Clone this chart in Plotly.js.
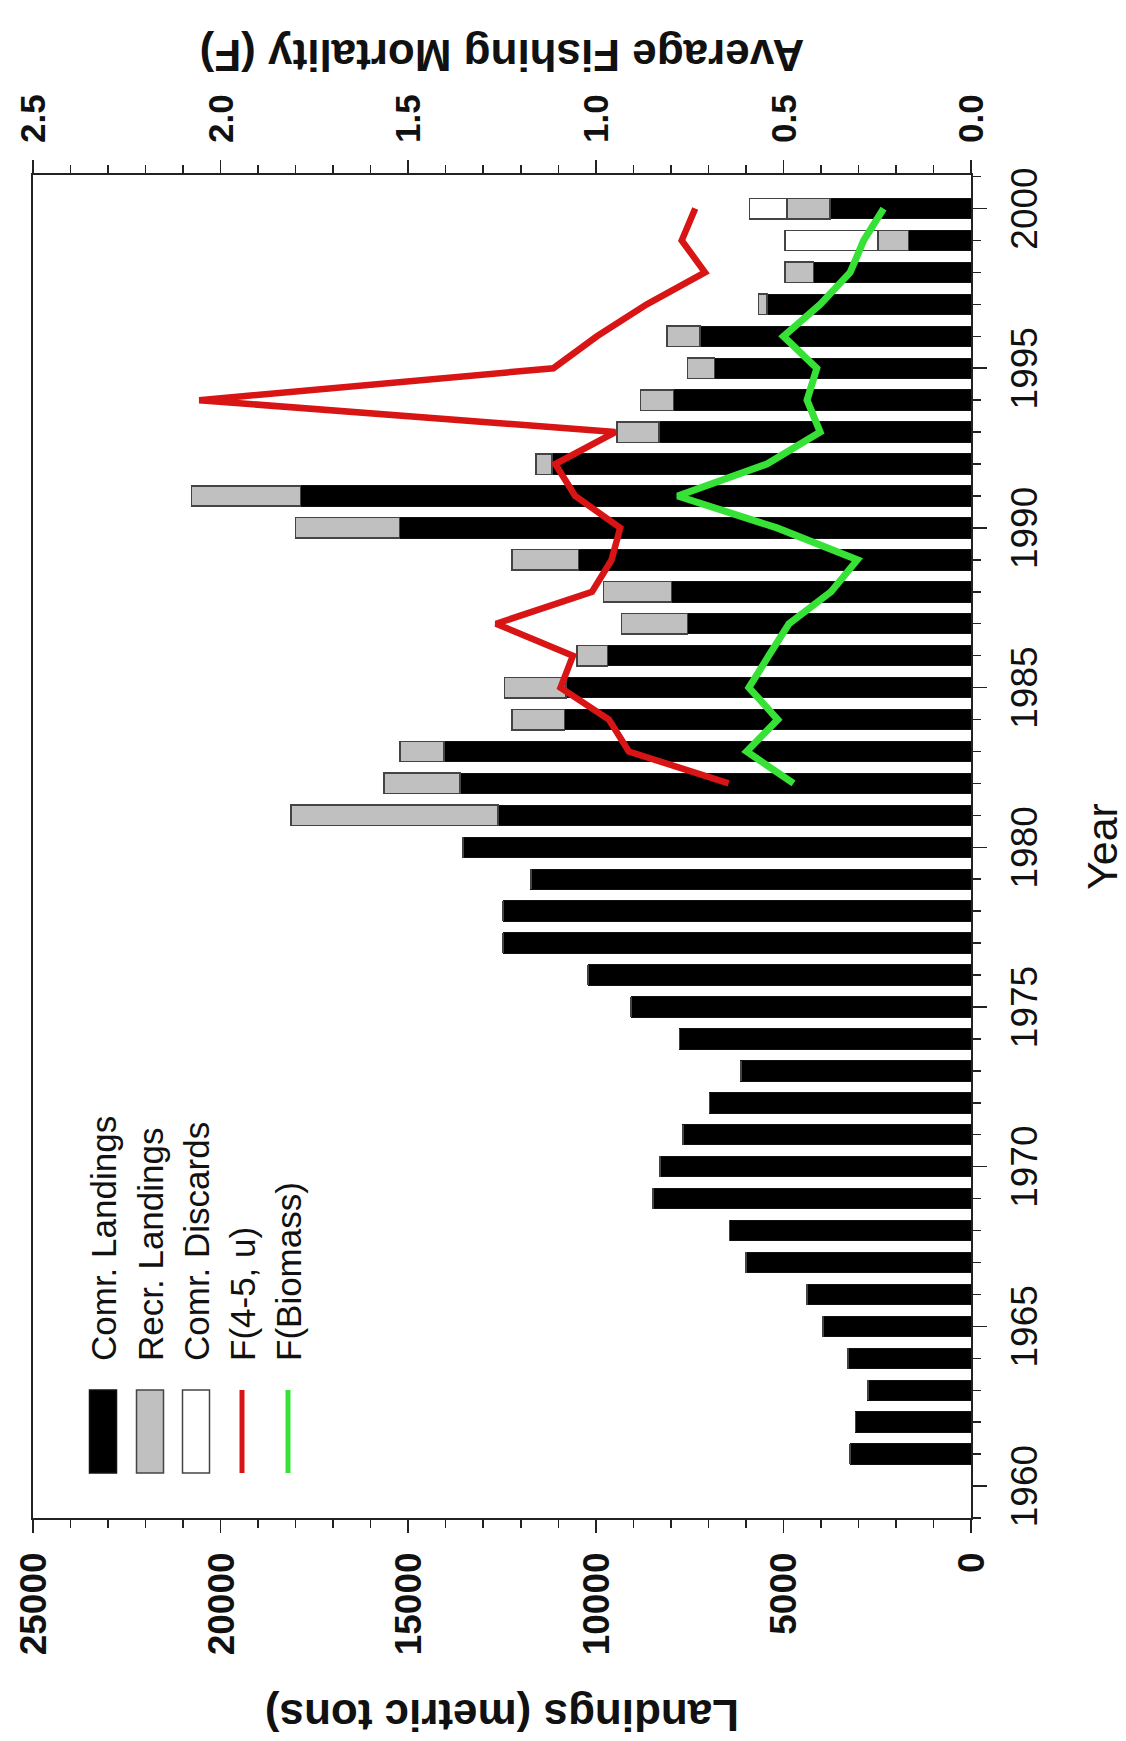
<!DOCTYPE html>
<html>
<head>
<meta charset="utf-8">
<script src="https://cdn.plot.ly/plotly-3.0.1.min.js"></script>
<style>
  html, body { margin: 0; padding: 0; background: #ffffff; overflow: hidden; }
  body { width: 1126px; height: 1741px; position: relative; }
  /* The chart is laid out landscape and turned a quarter turn counter-clockwise */
  #chart {
    position: absolute; left: 0; top: 0;
    width: 1741px; height: 1126px;
    transform-origin: 0 0;
    transform: translateY(1741px) rotate(-90deg);
  }
</style>
</head>
<body>
<div id="chart"></div>
<script>
// Landings by year (metric tons)
const years = [1961,1962,1963,1964,1965,1966,1967,1968,1969,1970,
               1971,1972,1973,1974,1975,1976,1977,1978,1979,1980,
               1981,1982,1983,1984,1985,1986,1987,1988,1989,1990,
               1991,1992,1993,1994,1995,1996,1997,1998,1999,2000];
const comrLandings = [3220,3085,2750,3280,3950,4375,6000,6440,8480,8290,
                      7680,6970,6135,7770,9060,10205,12467,12467,11728,13535,
                      12612,13620,14045,10830,10800,9690,7552,7977,10460,15237,
                      17867,11170,8312,7930,6837,7219,5440,4197,1664,3752];
const recrLandings = [0,0,0,0,0,0,0,0,0,0,
                      0,0,0,0,0,0,0,0,0,0,
                      5510,2020,1170,1400,1640,805,1768,1823,1776,2763,
                      2906,422,1128,880,720,888,224,755,816,1155];
const comrDiscards = [0,0,0,0,0,0,0,0,0,0,
                      0,0,0,0,0,0,0,0,0,0,
                      0,0,0,0,0,0,0,0,0,0,
                      0,0,0,0,0,0,0,0,2472,997];

// Average fishing mortality
const fYears = [1982,1983,1984,1985,1986,1987,1988,1989,1990,1991,
                1992,1993,1994,1995,1996,1997,1998,1999,2000];
const fAge45 = [0.646,0.912,0.965,1.094,1.061,1.266,1.010,0.958,0.935,1.055,
                1.108,0.948,2.057,1.113,0.997,0.864,0.709,0.771,0.735];
const fBiomass = [0.473,0.598,0.515,0.592,0.539,0.485,0.373,0.303,0.517,0.782,
                  0.544,0.402,0.437,0.411,0.500,0.402,0.322,0.286,0.233];

const legendLabels = ['Comr. Landings', 'Recr. Landings', 'Comr. Discards', 'F(4-5, u)', 'F(Biomass)'];

const FONT = 'Liberation Sans, Arial, Helvetica, sans-serif';
const INK = '#111111';
const AXIS = '#222222';
const RED = '#d81414';
const GREEN = '#36e236';
const GREY = '#c0c0c0';
const EDGE = '#444444';

const W = 1741, H = 1126;
const M = {l: 223, r: 175, t: 33, b: 155};
const PW = W - M.l - M.r, PH = H - M.t - M.b;
// pixel position inside the figure -> paper coordinates
const px = v => (v - M.l) / PW;
const py = v => 1 - (v - M.t) / PH;

const barW = 0.64;
const traces = [
  {type: 'bar', x: years, y: comrLandings, width: barW, name: legendLabels[0],
   marker: {color: '#000000', line: {color: INK, width: 1}}},
  {type: 'bar', x: years, y: recrLandings, width: barW, name: legendLabels[1],
   marker: {color: GREY, line: {color: EDGE, width: 1.5}}},
  {type: 'bar', x: years, y: comrDiscards, width: barW, name: legendLabels[2],
   marker: {color: '#ffffff', line: {color: EDGE, width: 1.5}}},
  {type: 'scatter', mode: 'lines', x: fYears, y: fAge45, yaxis: 'y2', name: legendLabels[3],
   line: {color: RED, width: 6.5}},
  {type: 'scatter', mode: 'lines', x: fYears, y: fBiomass, yaxis: 'y2', name: legendLabels[4],
   line: {color: GREEN, width: 7}}
];

// hand-built legend: swatches as shapes, labels as annotations
const sw0 = 268, sw1 = 351, textX = 378;
const rows = [103, 150, 196, 242, 288];
const shapes = [];
const swatchFill = ['#000000', GREY, '#ffffff'];
for (let i = 0; i < 3; i++) {
  shapes.push({type: 'rect', xref: 'paper', yref: 'paper',
    x0: px(sw0), x1: px(sw1), y0: py(rows[i] - 13.5), y1: py(rows[i] + 13.5),
    fillcolor: swatchFill[i], line: {color: i === 0 ? INK : EDGE, width: 1.5}});
}
[RED, GREEN].forEach((c, k) => {
  shapes.push({type: 'line', xref: 'paper', yref: 'paper',
    x0: px(sw0), x1: px(sw1), y0: py(rows[3 + k]), y1: py(rows[3 + k]),
    line: {color: c, width: 5}});
});
const annotations = legendLabels.map((t, i) => ({
  xref: 'paper', yref: 'paper', x: px(textX), y: py(rows[i]),
  xanchor: 'left', yanchor: 'middle', showarrow: false, text: t,
  font: {family: FONT, size: 35, color: INK}
}));

const layout = {
  width: W, height: H,
  margin: {l: M.l, r: M.r, t: M.t, b: M.b, pad: 0},
  paper_bgcolor: '#ffffff', plot_bgcolor: '#ffffff',
  barmode: 'stack', bargap: 0,
  showlegend: false,
  font: {family: FONT, color: INK},
  xaxis: {
    range: [1959, 2001.05], tick0: 1960, dtick: 5,
    ticks: 'outside', ticklen: 14, tickwidth: 1.5, tickcolor: AXIS,
    minor: {dtick: 1, ticks: 'outside', ticklen: 8, tickwidth: 1.5, tickcolor: AXIS},
    showline: true, linecolor: AXIS, linewidth: 2, mirror: true,
    showgrid: false, zeroline: false,
    tickfont: {family: FONT, size: 37, color: INK},
    ticklabelstandoff: 6,
    title: {text: 'Year', font: {family: FONT, size: 43, color: INK}, standoff: 46}
  },
  yaxis: {
    range: [0, 25000], dtick: 5000, tickformat: 'd',
    ticks: 'outside', ticklen: 13, tickwidth: 1.5, tickcolor: AXIS,
    minor: {dtick: 1000, ticks: 'outside', ticklen: 8, tickwidth: 1.5, tickcolor: AXIS},
    showline: true, linecolor: AXIS, linewidth: 2,
    showgrid: false, zeroline: false,
    tickfont: {family: FONT, size: 37, weight: 'bold', color: INK},
    ticklabelstandoff: 12,
    title: {text: 'Landings (metric tons)', font: {family: FONT, size: 44, weight: 'bold', color: INK}, standoff: 30}
  },
  yaxis2: {
    overlaying: 'y', side: 'right', anchor: 'x',
    range: [0, 2.5], dtick: 0.5, tickformat: '.1f',
    ticks: 'outside', ticklen: 13, tickwidth: 1.5, tickcolor: AXIS,
    minor: {dtick: 0.1, ticks: 'outside', ticklen: 8, tickwidth: 1.5, tickcolor: AXIS},
    showline: true, linecolor: AXIS, linewidth: 2,
    showgrid: false, zeroline: false,
    tickfont: {family: FONT, size: 35, weight: 'bold', color: INK},
    ticklabelstandoff: 10,
    title: {text: 'Average Fishing Mortality (F)', font: {family: FONT, size: 44, weight: 'bold', color: INK}, standoff: 25}
  },
  shapes: shapes,
  annotations: annotations
};

Plotly.newPlot('chart', traces, layout, {displayModeBar: false, staticPlot: true});
</script>
</body>
</html>
